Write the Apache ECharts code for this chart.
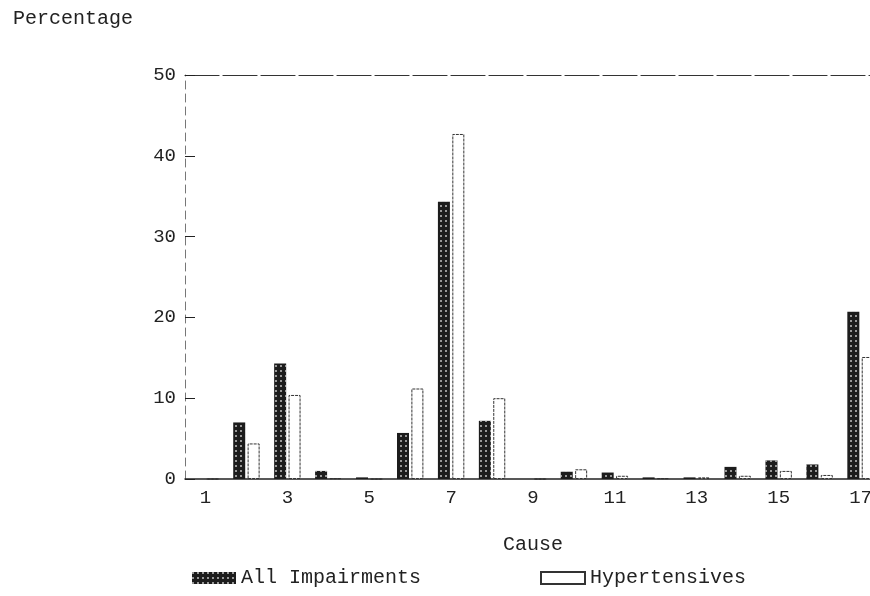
<!DOCTYPE html>
<html>
<head>
<meta charset="utf-8">
<script src="https://cdn.jsdelivr.net/npm/echarts@6/dist/echarts.min.js"></script>
<style>
  html, body { margin: 0; padding: 0; background: #fff; }
  #main { width: 870px; height: 596px; }
</style>
</head>
<body>
<div id="main"></div>
<script>
// causes 1..17, labels only on odd ones
var causes = ['1','2','3','4','5','6','7','8','9','10','11','12','13','14','15','16','17'];
var allImpairments = [0, 7.0, 14.3, 1.0, 0.2, 5.7, 34.3, 7.2, 0, 0.9, 0.8, 0.2, 0.2, 1.5, 2.3, 1.8, 20.7];
var hypertensives  = [0, 4.4, 10.4, 0.1, 0, 11.2, 42.7, 10.0, 0, 1.2, 0.4, 0.1, 0.2, 0.4, 1.0, 0.5, 15.1];
var yTicks = [0, 10, 20, 30, 40, 50];

var mono = 'Liberation Mono';
var ink = '#222';

var chart = echarts.init(document.getElementById('main'));
chart.setOption({
    animation: false,
    title: {
        text: 'Percentage',
        left: 8,
        top: 4,
        textStyle: { fontFamily: mono, fontSize: 20, fontWeight: 'normal', color: ink }
    },
    legend: [
        {
            data: ['All Impairments'],
            icon: 'rect',
            left: 187,
            bottom: 3,
            itemWidth: 44,
            itemHeight: 12,
            textStyle: { fontFamily: mono, fontSize: 20, color: ink }
        },
        {
            data: ['Hypertensives'],
            icon: 'rect',
            left: 535,
            bottom: 3,
            itemWidth: 44,
            itemHeight: 12,
            textStyle: { fontFamily: mono, fontSize: 20, color: ink }
        }
    ],
    // the plot runs past the right edge of the page, as in the scan
    grid: {
        left: 185,
        width: 696,
        top: 75,
        bottom: 117,
        outerBoundsMode: 'none'
    },
    xAxis: [
        {
            type: 'category',
            data: causes,
            name: 'Cause',
            nameLocation: 'middle',
            nameGap: 56,
            nameTextStyle: { fontFamily: mono, fontSize: 20, color: ink },
            axisLine: { lineStyle: { color: ink, width: 1.5 } },
            axisTick: { alignWithLabel: true, length: 3, interval: 1, lineStyle: { color: ink } },
            axisLabel: {
                interval: 1,
                margin: 9,
                fontFamily: mono,
                fontSize: 19,
                color: ink
            }
        },
        {
            type: 'category',
            data: causes,
            position: 'top',
            axisLine: { lineStyle: { color: '#333', width: 1.2, type: [34, 4] } },
            axisTick: { show: false },
            axisLabel: { show: false }
        }
    ],
    yAxis: {
        type: 'value',
        min: yTicks[0],
        max: yTicks[yTicks.length - 1],
        interval: 10,
        axisLine: { show: true, lineStyle: { color: '#777', type: [8, 5] } },
        axisTick: { show: true, inside: true, length: 10, lineStyle: { color: ink } },
        axisLabel: { margin: 9, fontFamily: mono, fontSize: 19, color: ink },
        splitLine: { show: false }
    },
    series: [
        {
            name: 'All Impairments',
            type: 'bar',
            data: allImpairments,
            barWidth: 12,
            barGap: '20%',
            itemStyle: {
                color: '#1c1c1c',
                decal: {
                    symbol: 'rect',
                    symbolSize: 1,
                    color: 'rgba(255,255,255,0.55)',
                    dashArrayX: [1.5, 2.5],
                    dashArrayY: [1.5, 2.5]
                }
            }
        },
        {
            name: 'Hypertensives',
            type: 'bar',
            data: hypertensives,
            barWidth: 12,
            itemStyle: {
                color: '#fff',
                borderColor: '#333',
                borderWidth: 1,
                borderType: [3, 1]
            }
        }
    ]
});
</script>
</body>
</html>
